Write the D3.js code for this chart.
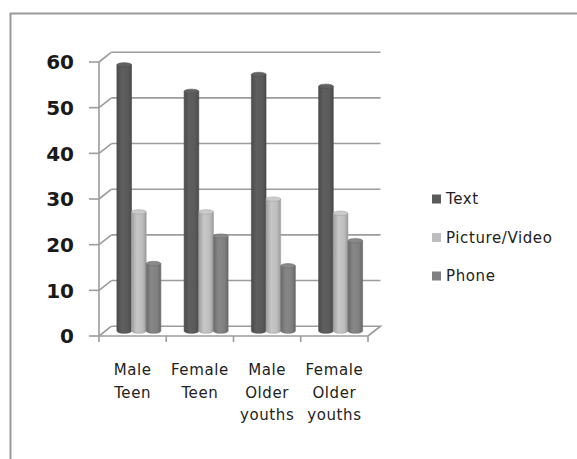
<!DOCTYPE html>
<html>
<head>
<meta charset="utf-8">
<script src="https://cdn.jsdelivr.net/npm/d3@7/dist/d3.min.js"></script>
<style>
  html, body { margin: 0; padding: 0; background: #fff; }
  svg { display: block; }
</style>
</head>
<body>
<svg id="chart" width="577" height="459"></svg>
<script>
// Chart data
const categories = [["Male", "Teen"], ["Female", "Teen"], ["Male", "Older", "youths"], ["Female", "Older", "youths"]];
const seriesNames = ["Text", "Picture/Video", "Phone"];
const textValues = [58.3, 52.5, 56.2, 53.6];
const pictureValues = [26.1, 26.1, 28.9, 25.8];
const phoneValues = [14.8, 20.8, 14.3, 19.8];
const yTicks = [0, 10, 20, 30, 40, 50, 60];
const seriesColors = ["#5a5a5a", "#bdbdbd", "#808080"];

const seriesValues = [textValues, pictureValues, phoneValues];

const svg = d3.select("#chart");
const W = 577, H = 459;

// Outer frame of the chart area
svg.append("rect")
  .attr("x", 10.5).attr("y", 13.5)
  .attr("width", W + 20).attr("height", H + 20)
  .attr("fill", "none").attr("stroke", "#999").attr("stroke-width", 2);

// Front plane of the 3D plot and the depth offset to the back wall
const frontLeft = 99, frontRight = 368;
const depthDx = 12.5, depthDy = -9.8;
const yFront = d3.scaleLinear().domain([0, 60]).range([336, 62]);
const yMid = v => yFront(v) + depthDy / 2;

const xBand = d3.scaleBand()
  .domain(d3.range(categories.length))
  .range([frontLeft, frontRight])
  .paddingInner(0.346).paddingOuter(0.173);
const xSeries = d3.scaleBand()
  .domain(d3.range(seriesNames.length))
  .range([0, xBand.bandwidth()]);

const gridColor = "#9c9c9c";

// Back wall gridlines and side wall diagonals
const grid = svg.append("g").attr("stroke", gridColor).attr("stroke-width", 1.6).attr("fill", "none");
yTicks.forEach(t => {
  const yb = yFront(t) + depthDy;
  if (t > 0) {
    grid.append("line")
      .attr("x1", frontLeft + depthDx).attr("x2", frontRight + depthDx)
      .attr("y1", yb).attr("y2", yb);
  }
  grid.append("line")
    .attr("x1", frontLeft).attr("y1", yFront(t))
    .attr("x2", frontLeft + depthDx).attr("y2", yb);
});

// Floor
grid.append("path")
  .attr("d", d3.line()([
    [frontLeft + depthDx, yFront(0) + depthDy],
    [frontRight + depthDx, yFront(0) + depthDy],
    [frontRight, yFront(0)]
  ]));

// Vertical axis line and tick marks
grid.append("line")
  .attr("x1", frontLeft).attr("x2", frontLeft)
  .attr("y1", yFront(60)).attr("y2", yFront(0));
yTicks.forEach(t => {
  grid.append("line")
    .attr("x1", frontLeft - 10).attr("x2", frontLeft)
    .attr("y1", yFront(t)).attr("y2", yFront(t));
});

// Horizontal axis line with category separators
grid.append("line")
  .attr("x1", frontLeft).attr("x2", frontRight)
  .attr("y1", yFront(0)).attr("y2", yFront(0));
const step = (frontRight - frontLeft) / categories.length;
d3.range(categories.length + 1).forEach(i => {
  const x = frontLeft + i * step;
  grid.append("line")
    .attr("x1", x).attr("x2", x)
    .attr("y1", yFront(0)).attr("y2", yFront(0) + 6);
});

// Cylinder shading gradients, one per series
const defs = svg.append("defs");
seriesColors.forEach((c, i) => {
  const base = d3.color(c);
  const g = defs.append("linearGradient").attr("id", "cyl" + i)
    .attr("x1", 0).attr("x2", 1).attr("y1", 0).attr("y2", 0);
  g.append("stop").attr("offset", "0%").attr("stop-color", base.darker(0.5));
  g.append("stop").attr("offset", "35%").attr("stop-color", base.brighter(0.15));
  g.append("stop").attr("offset", "75%").attr("stop-color", base);
  g.append("stop").attr("offset", "100%").attr("stop-color", base.darker(0.6));
});

// Bars drawn as cylinders standing at mid depth
const bars = svg.append("g");
categories.forEach((cat, ci) => {
  seriesValues.forEach((vals, si) => {
    const x = xBand(ci) + xSeries(si) + depthDx / 2;
    const w = xSeries.bandwidth();
    const yTop = yMid(vals[ci]);
    const yBot = yMid(0);
    const ry = 2.2;
    const g = bars.append("g");
    g.append("path")
      .attr("d", `M${x},${yTop} L${x},${yBot} A${w / 2},${ry} 0 0 0 ${x + w},${yBot} L${x + w},${yTop} Z`)
      .attr("fill", `url(#cyl${si})`)
      .attr("stroke", d3.color(seriesColors[si]).darker(0.4))
      .attr("stroke-width", 0.6);
    g.append("ellipse")
      .attr("cx", x + w / 2).attr("cy", yTop)
      .attr("rx", w / 2).attr("ry", ry)
      .attr("fill", d3.color(seriesColors[si]).brighter(0.2))
      .attr("stroke", d3.color(seriesColors[si]).darker(0.4))
      .attr("stroke-width", 0.6);
  });
});

// Value axis labels
svg.append("g")
  .selectAll("text")
  .data(yTicks)
  .join("text")
  .attr("x", 74)
  .attr("y", d => yFront(d))
  .attr("dy", "0.36em")
  .attr("text-anchor", "end")
  .attr("font-family", "DejaVu Sans, Verdana, sans-serif")
  .attr("font-size", 20)
  .attr("font-weight", "bold")
  .attr("fill", "#1a1a1a")
  .text(d => d);

// Category labels, one line per word
const catLabels = svg.append("g")
  .attr("font-family", "DejaVu Sans, Verdana, sans-serif")
  .attr("font-size", 15)
  .attr("fill", "#222")
  .attr("text-anchor", "middle");
categories.forEach((lines, ci) => {
  const cx = frontLeft + (ci + 0.5) * step;
  lines.forEach((ln, li) => {
    catLabels.append("text")
      .attr("x", cx)
      .attr("y", 375 + li * 22.5)
      .attr("letter-spacing", 0.6)
      .text(ln);
  });
});

// Legend
const legend = svg.append("g")
  .attr("font-family", "DejaVu Sans, Verdana, sans-serif")
  .attr("font-size", 15)
  .attr("letter-spacing", 0.6)
  .attr("fill", "#222");
seriesNames.forEach((name, i) => {
  const cy = 199 + i * 38.5;
  legend.append("rect")
    .attr("x", 432).attr("y", cy - 4.5)
    .attr("width", 9).attr("height", 9)
    .attr("fill", seriesColors[i]);
  legend.append("text")
    .attr("x", 446).attr("y", cy)
    .attr("dy", "0.36em")
    .text(name);
});
</script>
</body>
</html>
